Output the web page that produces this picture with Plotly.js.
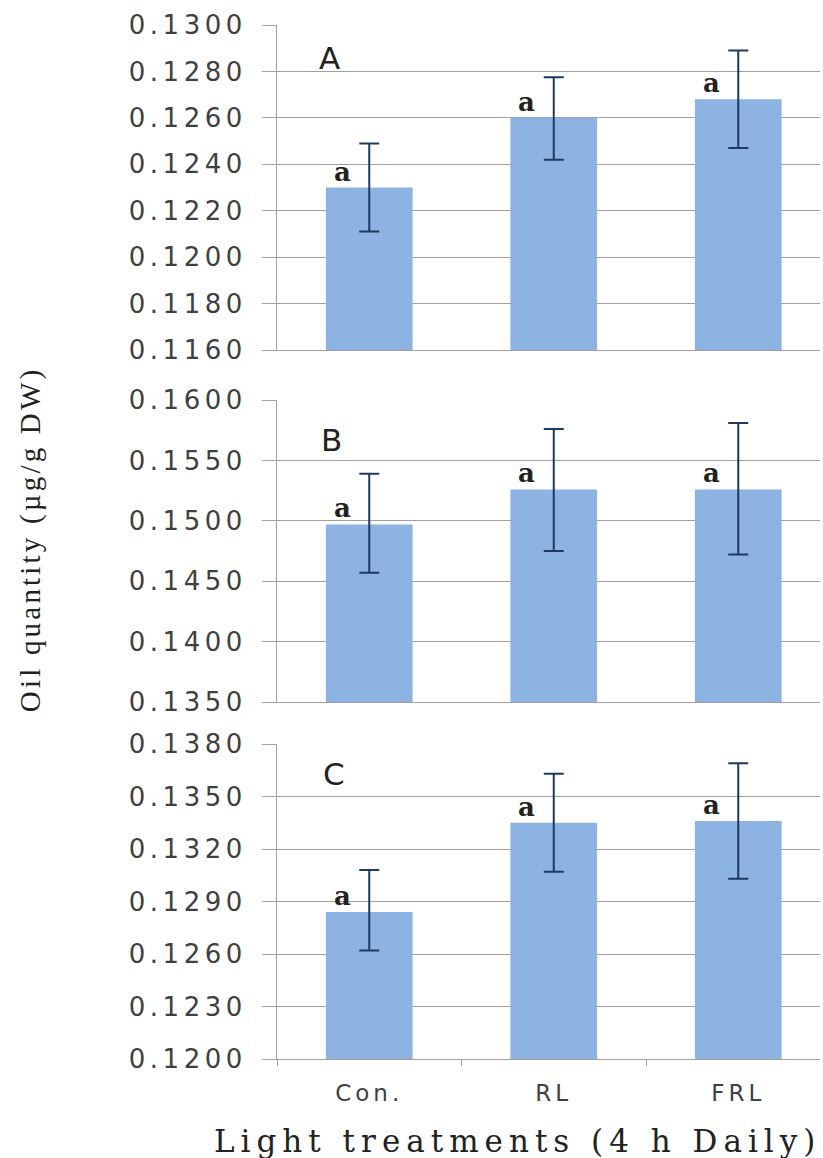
<!DOCTYPE html>
<html>
<head>
<meta charset="utf-8">
<script src="https://cdn.plot.ly/plotly-3.0.1.min.js"></script>
<style>
  html, body { margin: 0; padding: 0; background: #fff; }
  #chart { width: 823px; height: 1158px; }
  .ytick text, .y2tick text, .y3tick text { letter-spacing: 4.5px; }
  .x3tick text { letter-spacing: 4px; }
  .annotation[data-index="9"] text { letter-spacing: 3.2px; }
  .annotation[data-index="10"] text { letter-spacing: 6px; }
</style>
</head>
<body>
<div id="chart"></div>
<script>
// ---- data ----
const categories = ["Con.", "RL", "FRL"];

const valuesA = [0.1230, 0.1260, 0.1268];
const errPlusA = [0.0019, 0.00175, 0.0021];
const errMinusA = [0.0019, 0.0018, 0.0021];

const valuesB = [0.1497, 0.1526, 0.1526];
const errPlusB = [0.0042, 0.0050, 0.0055];
const errMinusB = [0.0040, 0.0051, 0.0054];

const valuesC = [0.1284, 0.1335, 0.1336];
const errPlusC = [0.0024, 0.0028, 0.0033];
const errMinusC = [0.0022, 0.0028, 0.0033];

const letters = ["a", "a", "a"];
const panelLabels = ["A", "B", "C"];
const yTitle = "Oil quantity (µg/g DW)";
const xTitle = "Light treatments (4 h Daily)";

// ---- style ----
const barColor = "#8DB3E2";
const errColor = "#1F3A60";
const gridColor = "#A0A0A0";
const tickFont = { family: "DejaVu Sans", size: 26, color: "#404040" };

function barTrace(vals, ep, em, xa, ya) {
  return {
    type: "bar", x: categories, y: vals, xaxis: xa, yaxis: ya,
    marker: { color: barColor },
    error_y: { type: "data", symmetric: false, array: ep, arrayminus: em,
               color: errColor, thickness: 2, width: 10 },
    hoverinfo: "skip"
  };
}

const data = [
  barTrace(valuesA, errPlusA, errMinusA, "x", "y"),
  barTrace(valuesB, errPlusB, errMinusB, "x2", "y2"),
  barTrace(valuesC, errPlusC, errMinusC, "x3", "y3")
];

const H = 1158, W = 823;
const xDom = [277 / W, 820 / W];
const xRange = [-0.5, 2.443];
function yDom(top, bottom) { return [1 - bottom / H, 1 - top / H]; }

function xAxis(anchor, showLabels) {
  return {
    domain: xDom, range: xRange, anchor: anchor, type: "category",
    showgrid: false, zeroline: false,
    showline: true, linecolor: gridColor, linewidth: 1,
    showticklabels: showLabels,
    ticks: showLabels ? "outside" : "", tickson: "boundaries",
    ticklen: 6, tickcolor: gridColor,
    ticklabelstandoff: 13,
    tickfont: { family: "DejaVu Sans", size: 23, color: "#404040" },
    fixedrange: true
  };
}
function yAxis(anchor, dom, range, dtick) {
  return {
    domain: dom, range: range, anchor: anchor, dtick: dtick, tick0: range[0],
    tickformat: ".4f",
    showgrid: true, gridcolor: gridColor, gridwidth: 1,
    zeroline: false, showline: true, linecolor: gridColor, linewidth: 1,
    ticks: "outside", ticklen: 14, tickcolor: gridColor,
    ticklabelstandoff: 10,
    tickfont: tickFont, fixedrange: true
  };
}

const annotations = [];
const allVals = [valuesA, valuesB, valuesC];
const refs = [["x", "y"], ["x2", "y2"], ["x3", "y3"]];
allVals.forEach((vals, p) => {
  vals.forEach((v, i) => {
    annotations.push({
      xref: refs[p][0], yref: refs[p][1], x: categories[i], y: v,
      text: letters[i], showarrow: false, xshift: -27, yshift: 16,
      yanchor: "middle",
      font: { family: "DejaVu Serif", size: 26, color: "#222", weight: "bold" }
    });
  });
});
// y title (index 9)
annotations.push({
  xref: "paper", yref: "paper", x: 30 / W, y: 1 - 540 / H,
  text: yTitle, textangle: -90, showarrow: false,
  xanchor: "center", yanchor: "middle",
  font: { family: "Liberation Serif", size: 29, color: "#222" }
});
// x title (index 10)
annotations.push({
  xref: "paper", yref: "paper", x: 517 / W, y: 1 - 1141 / H,
  text: xTitle, showarrow: false,
  xanchor: "center", yanchor: "middle",
  font: { family: "DejaVu Serif", size: 31, color: "#222" }
});
// panel letters
const panelPos = [[329, 58], [331, 440], [334, 774]];
panelLabels.forEach((t, k) => {
  annotations.push({
    xref: "paper", yref: "paper", x: panelPos[k][0] / W, y: 1 - panelPos[k][1] / H,
    text: t, showarrow: false, xanchor: "center", yanchor: "middle",
    font: { family: "DejaVu Sans", size: 31, color: "#222" }
  });
});

const layout = {
  width: W, height: H,
  margin: { l: 0, r: 0, t: 0, b: 0 },
  paper_bgcolor: "#fff", plot_bgcolor: "#fff",
  showlegend: false, bargap: 0.53,
  xaxis: xAxis("y", false),
  xaxis2: xAxis("y2", false),
  xaxis3: xAxis("y3", true),
  yaxis: yAxis("x", yDom(25, 350), [0.116, 0.130], 0.002),
  yaxis2: yAxis("x2", yDom(400, 702), [0.135, 0.160], 0.005),
  yaxis3: yAxis("x3", yDom(744, 1059), [0.120, 0.138], 0.003),
  annotations: annotations
};

Plotly.newPlot("chart", data, layout, { staticPlot: true, displayModeBar: false });
</script>
</body>
</html>
